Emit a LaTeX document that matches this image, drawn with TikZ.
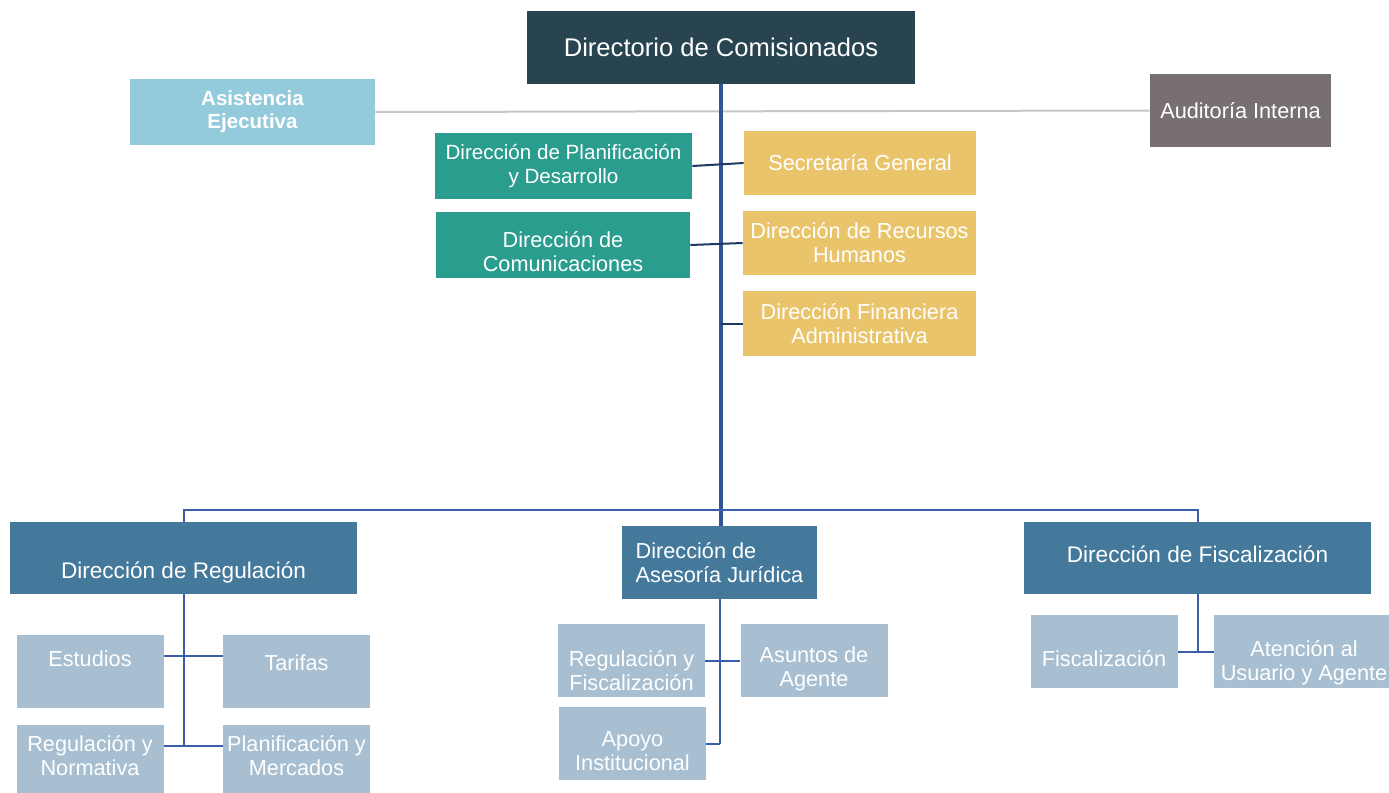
\documentclass[tikz,border=0pt]{standalone}
\usepackage{fontspec}
\setmainfont{Liberation Sans}
\definecolor{dcom}{RGB}{39,68,80}
\definecolor{asis}{RGB}{147,203,220}
\definecolor{audi}{RGB}{120,112,112}
\definecolor{teal1}{RGB}{42,157,142}
\definecolor{gold}{RGB}{233,196,106}
\definecolor{dirc}{RGB}{68,121,155}
\definecolor{unit}{RGB}{167,191,209}
\definecolor{trunk}{RGB}{47,85,151}
\definecolor{bus}{RGB}{58,94,170}
\definecolor{tie}{RGB}{31,56,100}
% shift the text inside a box up (+) or down (-)
\newcommand\lift[2]{\raisebox{#1}[\height][\depth]{\begin{tabular}{@{}c@{}}#2\end{tabular}}}
\begin{document}
\begin{tikzpicture}
  [x=0.5pt,y=-0.5pt,
   every node/.style={rectangle,inner sep=2pt,text=white,align=center,
     font=\fontsize{10.85}{12}\selectfont},
   bx/.style 2 args={minimum width=#1,minimum height=#2},
   unitbox/.style={fill=unit,bx={73.5pt}{36.5pt}},
   headbox/.style={fill=dirc,bx={173.5pt}{36pt},font=\fontsize{11.3}{12}\selectfont}]
  \useasboundingbox (0,0) rectangle (1389,793);
  % top level
  \node[fill=dcom,bx={194pt}{36.5pt},font=\fontsize{12.8}{14}\selectfont] (dc) at (721,47.5) {Directorio de Comisionados};
  \node[fill=asis,bx={122.5pt}{33pt},font=\bfseries\fontsize{10.25}{11.5}\selectfont] (ae) at (252.5,112) {Asistencia\\Ejecutiva};
  \node[fill=audi,bx={90.5pt}{36.5pt}] (ai) at (1240.5,110.5) {Auditoría Interna};
  % staff
  \node[fill=teal1,bx={128.5pt}{33pt},font=\fontsize{10.3}{12}\selectfont] (pd) at (563.5,166) {Dirección de Planificación\\y Desarrollo};
  \node[fill=teal1,bx={127pt}{33pt}] (cm) at (563,245) {\lift{-4.6pt}{Dirección de\\Comunicaciones}};
  \node[fill=gold,bx={116pt}{32pt}] (sg) at (860,163) {Secretaría General};
  \node[fill=gold,bx={116.5pt}{32pt}] (rh) at (859.5,243) {Dirección de Recursos\\Humanos};
  \node[fill=gold,bx={116.5pt}{32.5pt}] (fa) at (859.5,323.5) {Dirección Financiera\\Administrativa};
  % line directions
  \node[headbox] (dr) at (183.5,558) {\lift{-7.7pt}{Dirección de Regulación}};
  \node[fill=dirc,bx={97.5pt}{36.5pt},align=left] (dj) at (719.5,562.5) {Dirección de\\Asesoría Jurídica};
  \node[headbox] (df) at (1197.5,558) {\lift{0pt}{Dirección de Fiscalización}};
  % units
  \node[unitbox] (es) at (90,671.5) {\lift{5pt}{Estudios}};
  \node[unitbox] (ta) at (296.5,671.5) {\lift{3pt}{Tarifas}};
  \node[unitbox,bx={73.5pt}{34pt}] (rn) at (90,759) {\lift{0pt}{Regulación y\\Normativa}};
  \node[unitbox,bx={73.5pt}{34pt}] (pm) at (296.5,759) {\lift{0pt}{Planificación y\\Mercados}};
  \node[unitbox] (rf) at (631.5,660.5) {\lift{-6.6pt}{Regulación y\\Fiscalización}};
  \node[unitbox] (ap) at (632.5,743.5) {\lift{-5.1pt}{Apoyo\\Institucional}};
  \node[unitbox] (ag) at (814,660.5) {\lift{-4.5pt}{Asuntos de\\Agente}};
  \node[unitbox] (fz) at (1104,651.5) {\lift{-4.9pt}{Fiscalización}};
  \node[unitbox,bx={90pt}{36.5pt}] (au) at (1304,651.5) {\lift{-5.9pt}{Atención al\\Usuario y Agente}};
  \coordinate (bs) at (720,510);
  \coordinate (r1) at (183.5,656);
  \coordinate (r2) at (183.5,746);

  \draw[gray!45,line width=1pt] (ae.east) -- (ai.west);
  \draw[trunk,line width=1.8pt] (dc.south) -- (dc.south |- dj.north);
  \foreach \from/\to in {pd/sg,cm/rh}
    \draw[tie,line width=1pt] (\from.east) -- (\to.west);
  \draw[tie,line width=1pt] (fa.west -| dc.south) -- (fa.west);
  \draw[bus,line width=1pt] (dr.north) |- (bs) -| (df.north);
  \draw[bus,line width=1pt] (dr.south) -- (r2);
  \draw[bus,line width=1pt] (es.east |- r1) -- (ta.west |- r1);
  \draw[bus,line width=1pt] (rn.east |- r2) -- (pm.west |- r2);
  \draw[bus,line width=1pt] (dj.south) -- (dj.south |- ap.east);
  \draw[bus,line width=1pt] (ap.east) -- (ap.east -| dj.south);
  \draw[bus,line width=1pt] (df.south) -- (df.south |- fz.east);
  \foreach \from/\to in {rf/ag,fz/au}
    \draw[bus,line width=1pt] (\from.east) -- (\to.west);

\end{tikzpicture}
\end{document}
